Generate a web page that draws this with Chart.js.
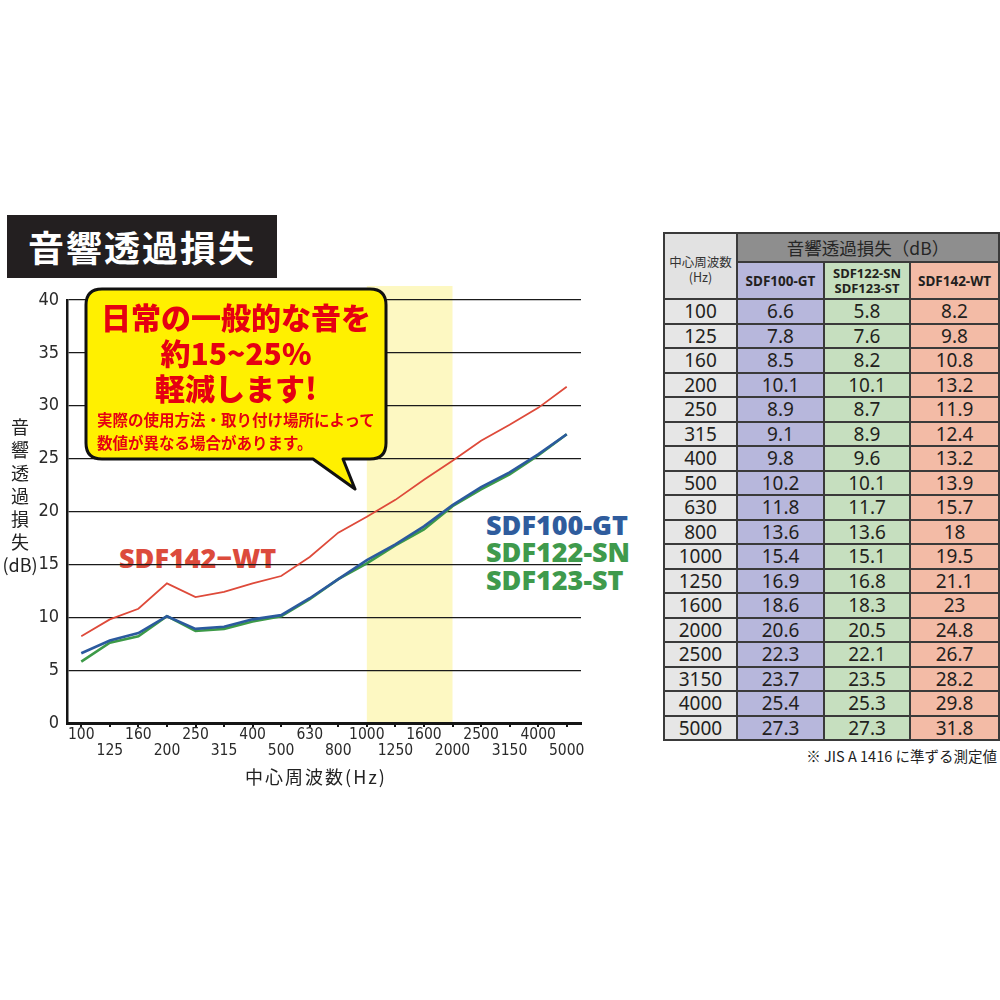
<!DOCTYPE html>
<html lang="ja">
<head>
<meta charset="utf-8">
<script src="https://cdn.jsdelivr.net/npm/chart.js@4.4.1/dist/chart.umd.min.js"></script>
<style>
  html, body { margin: 0; padding: 0; background: #fff; }
  body { width: 1000px; height: 1000px; position: relative; overflow: hidden;
         font-family: 'Noto Sans CJK JP', 'Noto Sans', sans-serif; }
  .abs { position: absolute; }
  #titleBox { left: 7px; top: 215px; width: 270px; height: 63px; background: #231f20;
              color: #fff; font-size: 36px; font-weight: 700; line-height: 63px;
              box-sizing: border-box; padding-left: 21px; letter-spacing: 2px; }
  #chartWrap { left: 0; top: 0; width: 600px; height: 800px; z-index: 1; }
  .seriesLabel { font-family: 'Noto Sans', 'Open Sans', sans-serif; font-weight: 900;
                 font-size: 27px; line-height: 30px; white-space: nowrap; z-index: 0; }
  #yTitle { left: 0; top: 415px; width: 40px; text-align: center; font-size: 18px;
            line-height: 23px; color: #222; z-index: 2; }
  #xTitle { left: 216px; top: 763px; width: 200px; text-align: center; font-size: 18px;
            line-height: 26px; color: #222; letter-spacing: 2px; z-index: 2; }
  #bubble { left: 0; top: 0; z-index: 3; }
  .bTxt { color: #e60012; font-weight: 900; white-space: nowrap; z-index: 4; }
  #tbl { left: 663px; top: 232px; border-collapse: collapse; z-index: 2;
         font-family: 'Noto Sans', 'Open Sans', sans-serif; color: #231f20; }
  #tbl td { border: 2px solid #3a3a3a; padding: 0; text-align: center; box-sizing: border-box; }
  #tbl td.body { font-size: 19px; height: 24.5px; line-height: 20px; }
  #note { right: 3px; top: 745px; font-size: 14.5px; color: #222; white-space: nowrap; }
</style>
</head>
<body>
<div id="titleBox" class="abs">音響透過損失</div>

<div id="lbl142" class="abs seriesLabel" style="left:119px; top:543px; color:#dc4b3c;">SDF142−WT</div>
<div class="abs seriesLabel" style="left:486px; top:510px; color:#2f5c9d;">SDF100-GT</div>
<div class="abs seriesLabel" style="left:486px; top:537px; color:#3f9a4c;">SDF122-SN</div>
<div class="abs seriesLabel" style="left:486px; top:565px; color:#3f9a4c;">SDF123-ST</div>

<div id="chartWrap" class="abs"><canvas id="c" width="600" height="800"></canvas></div>

<div id="yTitle" class="abs">音<br>響<br>透<br>過<br>損<br>失<br>(dB)</div>
<div id="xTitle" class="abs">中心周波数(Hz)</div>

<svg id="bubble" class="abs" width="1000" height="1000">
  <path d="M102,289 H370 Q386,289 386,305 V443 Q386,459 370,459 H343 L355,489 L313,459 H102 Q86,459 86,443 V305 Q86,289 102,289 Z"
        fill="#fff000" stroke="#111" stroke-width="3" stroke-linejoin="round"/>
</svg>
<div class="abs bTxt" style="left:86px; width:300px; top:298px; text-align:center; font-size:30px; line-height:36px;">日常の一般的な音を</div>
<div class="abs bTxt" style="left:86px; width:300px; top:334px; text-align:center; font-size:30px; line-height:36px;">約15~25%</div>
<div class="abs bTxt" style="left:86px; width:300px; top:369px; text-align:center; font-size:30px; line-height:36px;">軽減します!</div>
<div class="abs bTxt" style="left:97px; top:408px; font-size:15.5px; line-height:22px; font-weight:700;">実際の使用方法・取り付け場所によって</div>
<div class="abs bTxt" style="left:97px; top:431px; font-size:15.5px; line-height:22px; font-weight:700;">数値が異なる場合があります。</div>

<table id="tbl" class="abs"></table>
<div id="note" class="abs">※ JIS A 1416 に準ずる測定値</div>

<script>
// ---- data ----
const frequencies = ['100','125','160','200','250','315','400','500','630','800','1000','1250','1600','2000','2500','3150','4000','5000'];
const sdf100GT = [6.6, 7.8, 8.5, 10.1, 8.9, 9.1, 9.8, 10.2, 11.8, 13.6, 15.4, 16.9, 18.6, 20.6, 22.3, 23.7, 25.4, 27.3];
const sdf122SN = [5.8, 7.6, 8.2, 10.1, 8.7, 8.9, 9.6, 10.1, 11.7, 13.6, 15.1, 16.8, 18.3, 20.5, 22.1, 23.5, 25.3, 27.3];
const sdf142WT = [8.2, 9.8, 10.8, 13.2, 11.9, 12.4, 13.2, 13.9, 15.7, 18, 19.5, 21.1, 23, 24.8, 26.7, 28.2, 29.8, 31.8];
const yMin = 0, yMax = 40, yStep = 5;
const highlightFrom = '1000', highlightTo = '2000';

const NARROW = "'Liberation Sans Narrow','DejaVu Sans Condensed','Roboto Condensed','Liberation Sans',sans-serif";

// ---- highlight band plugin ----
const bandPlugin = {
  id: 'band',
  beforeDraw(chart) {
    const x = chart.scales.x, area = chart.chartArea, ctx = chart.ctx;
    const x0 = x.getPixelForValue(frequencies.indexOf(highlightFrom));
    const x1 = x.getPixelForValue(frequencies.indexOf(highlightTo));
    ctx.save();
    ctx.fillStyle = '#fdf8c2';
    ctx.fillRect(x0, area.top - 14, x1 - x0, area.bottom - area.top + 14);
    ctx.restore();
  }
};

new Chart(document.getElementById('c'), {
  type: 'line',
  data: {
    labels: frequencies,
    datasets: [
      { label: 'SDF100-GT', data: sdf100GT, borderColor: '#2b5a9e', borderWidth: 2.6, pointRadius: 0, tension: 0 },
      { label: 'SDF122-SN / SDF123-ST', data: sdf122SN, borderColor: '#3d9a48', borderWidth: 2.6, pointRadius: 0, tension: 0 },
      { label: 'SDF142-WT', data: sdf142WT, borderColor: '#de4a3a', borderWidth: 1.8, pointRadius: 0, tension: 0 }
    ]
  },
  options: {
    responsive: false,
    animation: false,
    devicePixelRatio: 1,
    layout: { padding: { left: 1, right: 19, top: 300, bottom: 17 } },
    plugins: { legend: { display: false }, tooltip: { enabled: false } },
    scales: {
      x: {
        type: 'category',
        offset: true,
        afterFit(s) { s.height = 60; },
        border: { display: true, color: '#151515', width: 3 },
        grid: { display: true, drawOnChartArea: false, drawTicks: true, tickLength: 4, color: '#151515', lineWidth: 2 },
        ticks: {
          autoSkip: false, maxRotation: 0, minRotation: 0, padding: 0,
          color: '#2a2a2a',
          font: { family: NARROW, size: 15.5, lineHeight: 1.05 },
          callback(value, index) {
            const l = frequencies[index];
            return index % 2 === 0 ? [l, ''] : ['', l];
          }
        }
      },
      y: {
        min: yMin, max: yMax,
        afterFit(s) { s.width = 66; },
        border: { display: true, color: '#151515', width: 2.5 },
        grid: { color: '#1a1a1a', lineWidth: 1.2, drawTicks: false },
        ticks: { stepSize: yStep, padding: 8, color: '#2a2a2a', font: { family: NARROW, size: 18 } }
      }
    }
  },
  plugins: [bandPlugin]
});

// ---- table ----
const tbl = document.getElementById('tbl');
const colW = [73, 87, 86, 89];
const colBg = ['#e6e6e6', '#b7b7dc', '#c6dfbf', '#f3bba6'];
let html = '<colgroup>' + colW.map(w => `<col style="width:${w}px">`).join('') + '</colgroup>';
html += `<tr><td rowspan="2" style="background:#e2e2e2;font-family:'Noto Sans CJK JP',sans-serif;font-size:12.5px;line-height:15px;color:#333;padding-top:6px;">中心周波数<br>(Hz)</td>` +
        `<td colspan="3" style="background:#8e8e8e;height:29px;font-family:'Noto Sans CJK JP',sans-serif;font-size:17.5px;line-height:20px;color:#262626;">音響透過損失（dB）</td></tr>`;
html += `<tr><td style="background:${colBg[1]};height:37px;font-weight:700;font-size:13.5px;">SDF100-GT</td>` +
        `<td style="background:${colBg[2]};font-weight:700;font-size:13px;line-height:15px;">SDF122-SN<br>SDF123-ST</td>` +
        `<td style="background:${colBg[3]};font-weight:700;font-size:13.5px;">SDF142-WT</td></tr>`;
frequencies.forEach((f, i) => {
  html += `<tr><td class="body" style="background:${colBg[0]}">${f}</td>` +
          `<td class="body" style="background:${colBg[1]}">${sdf100GT[i]}</td>` +
          `<td class="body" style="background:${colBg[2]}">${sdf122SN[i]}</td>` +
          `<td class="body" style="background:${colBg[3]}">${sdf142WT[i]}</td></tr>`;
});
tbl.innerHTML = html;
</script>
</body>
</html>
